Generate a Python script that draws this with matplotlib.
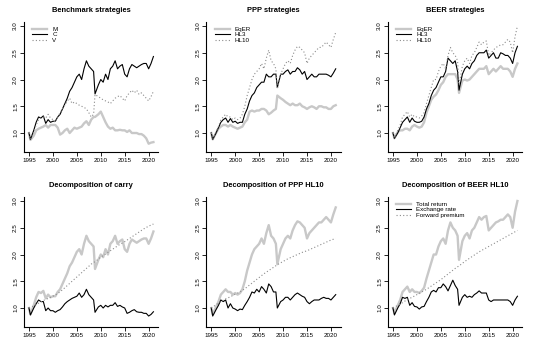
import numpy as np
import matplotlib
matplotlib.use("Agg")
import matplotlib.pyplot as plt

plt.rcParams['font.family'] = ['Liberation Sans', 'DejaVu Sans']

# observation dates (fractional years)
dates = [1995.0, 1995.3, 1996.0, 1996.5, 1997.0, 1997.5, 1998.0, 1998.5, 1999.0, 1999.5,
         2000.0, 2000.5, 2001.0, 2001.5, 2002.0, 2002.5, 2003.0, 2003.5, 2004.0, 2004.5,
         2005.0, 2005.5, 2006.0, 2006.5, 2007.0, 2007.5, 2008.0, 2008.5, 2008.8, 2009.5,
         2010.0, 2010.5, 2011.0, 2011.5, 2012.0, 2012.5, 2013.0, 2013.5, 2014.0, 2014.5,
         2015.0, 2015.5, 2016.0, 2016.5, 2017.0, 2017.5, 2018.0, 2018.5, 2019.0, 2019.5,
         2020.0, 2020.5, 2021.0]
fp_years = list(range(1995, 2022))

# benchmark strategies
bench_m = [1.0, 0.87, 0.95, 1.05, 1.08, 1.1, 1.12, 1.15, 1.1, 1.15,
           1.15, 1.15, 1.1, 0.97, 1.0, 1.05, 1.08, 1.0, 1.05, 1.1,
           1.08, 1.1, 1.12, 1.18, 1.22, 1.15, 1.25, 1.3, 1.3, 1.35,
           1.4, 1.3, 1.2, 1.12, 1.08, 1.1, 1.05, 1.05, 1.06, 1.05,
           1.05, 1.02, 1.05, 1.0, 1.0, 1.0, 0.98, 0.98, 0.95, 0.9,
           0.8, 0.82, 0.83]
bench_c = [1.0, 0.88, 1.05, 1.2, 1.3, 1.28, 1.32, 1.18, 1.25, 1.2,
           1.22, 1.22, 1.3, 1.35, 1.45, 1.55, 1.65, 1.78, 1.85, 1.95,
           2.05, 2.1, 2.0, 2.2, 2.35, 2.25, 2.2, 2.15, 1.73, 1.9,
           2.0, 1.95, 2.1, 2.0, 2.2, 2.25, 2.35, 2.2, 2.25, 2.28,
           2.1, 2.05, 2.2, 2.28, 2.25, 2.22, 2.25, 2.28, 2.3, 2.3,
           2.2, 2.3, 2.43]
bench_v = [1.0, 0.88, 1.02, 1.15, 1.25, 1.28, 1.3, 1.28, 1.35, 1.28,
           1.25, 1.2, 1.3, 1.38, 1.45, 1.52, 1.6, 1.65, 1.55, 1.58,
           1.55, 1.52, 1.5, 1.48, 1.45, 1.38, 1.3, 1.35, 1.72, 1.68,
           1.65, 1.62, 1.6, 1.58, 1.55, 1.6, 1.65, 1.68, 1.7, 1.65,
           1.6, 1.7, 1.75, 1.8, 1.75, 1.8, 1.72, 1.75, 1.7, 1.65,
           1.6, 1.68, 1.78]

# PPP strategies
ppp_eqer = [1.0, 0.88, 1.0, 1.08, 1.12, 1.15, 1.15, 1.12, 1.15, 1.12,
            1.1, 1.08, 1.1, 1.12, 1.2, 1.25, 1.4, 1.42, 1.4, 1.42,
            1.42, 1.45, 1.45, 1.42, 1.35, 1.38, 1.42, 1.45, 1.7, 1.65,
            1.62, 1.58, 1.55, 1.52, 1.55, 1.52, 1.52, 1.55, 1.5, 1.48,
            1.45, 1.48, 1.5, 1.48, 1.45, 1.5, 1.5, 1.48, 1.48, 1.45,
            1.45, 1.5, 1.52]
ppp_hl3 = [1.0, 0.88, 1.0, 1.1, 1.2, 1.25, 1.28, 1.2, 1.27, 1.2,
           1.22, 1.18, 1.2, 1.2, 1.35, 1.45, 1.6, 1.7, 1.75, 1.85,
           1.9, 1.95, 1.95, 2.1, 2.05, 2.05, 2.1, 2.1, 1.85, 2.1,
           2.1, 2.15, 2.18, 2.1, 2.15, 2.15, 2.22, 2.18, 2.1, 2.15,
           2.0, 2.05, 2.1, 2.05, 2.05, 2.1, 2.1, 2.1, 2.1, 2.08,
           2.05, 2.12, 2.2]
ppp_hl10 = [1.0, 0.88, 1.02, 1.12, 1.25, 1.3, 1.35, 1.3, 1.3, 1.25,
            1.28, 1.25, 1.28, 1.35, 1.5, 1.7, 1.85, 2.0, 2.1, 2.15,
            2.2, 2.3, 2.2, 2.4, 2.55, 2.35, 2.3, 2.2, 1.82, 2.1,
            2.2, 2.3, 2.35, 2.3, 2.45, 2.55, 2.62, 2.6, 2.55, 2.5,
            2.3, 2.4, 2.45, 2.5, 2.55, 2.6, 2.6, 2.65, 2.7, 2.65,
            2.6, 2.75, 2.88]

# BEER strategies
beer_eqer = [1.0, 0.9, 1.02, 1.05, 1.05, 1.08, 1.08, 1.05, 1.12, 1.15,
             1.12, 1.1, 1.12, 1.2, 1.38, 1.5, 1.62, 1.68, 1.72, 1.8,
             1.9, 1.95, 2.05, 2.1, 2.1, 2.1, 2.1, 2.0, 1.75, 1.98,
             2.0, 1.98, 2.0, 2.05, 2.1, 2.15, 2.2, 2.2, 2.2, 2.25,
             2.1, 2.15, 2.2, 2.15, 2.2, 2.25, 2.2, 2.2, 2.2, 2.15,
             2.05, 2.2, 2.3]
beer_hl3 = [1.0, 0.9, 1.0, 1.1, 1.2, 1.25, 1.3, 1.2, 1.28, 1.22,
            1.2, 1.2, 1.22, 1.3, 1.45, 1.55, 1.7, 1.8, 1.85, 1.95,
            2.05, 2.05, 2.15, 2.4, 2.35, 2.3, 2.35, 2.15, 1.8, 2.1,
            2.2, 2.25, 2.2, 2.3, 2.35, 2.45, 2.5, 2.5, 2.5, 2.55,
            2.4, 2.45, 2.5, 2.4, 2.4, 2.5, 2.48, 2.45, 2.45, 2.4,
            2.3, 2.5, 2.62]
beer_hl10 = [1.0, 0.9, 1.05, 1.15, 1.3, 1.35, 1.4, 1.3, 1.35, 1.3,
             1.3, 1.28, 1.32, 1.38, 1.55, 1.7, 1.85, 2.0, 2.0, 2.15,
             2.25, 2.3, 2.2, 2.45, 2.6, 2.5, 2.45, 2.35, 1.9, 2.25,
             2.35, 2.4, 2.3, 2.45, 2.5, 2.6, 2.7, 2.65, 2.7, 2.72,
             2.45, 2.5, 2.55, 2.6, 2.62, 2.65, 2.65, 2.7, 2.75, 2.7,
             2.5, 2.8, 3.0]

# decompositions: exchange rate part and forward premium part
carry_fx = [1.0, 0.87, 1.0, 1.08, 1.15, 1.12, 1.12, 0.95, 1.0, 0.95,
            0.95, 0.92, 0.95, 0.97, 1.02, 1.08, 1.12, 1.15, 1.18, 1.2,
            1.22, 1.28, 1.2, 1.25, 1.35, 1.25, 1.2, 1.15, 0.92, 1.02,
            1.05, 1.0, 1.05, 1.02, 1.05, 1.05, 1.1, 1.03, 1.05, 1.02,
            1.0, 0.9, 0.92, 0.95, 0.97, 0.93, 0.92, 0.92, 0.9, 0.9,
            0.85, 0.88, 0.93]
carry_fp = [1.0, 1.04, 1.09, 1.14, 1.18, 1.22, 1.27, 1.34, 1.42, 1.5,
            1.58, 1.66, 1.74, 1.82, 1.88, 1.95, 2.01, 2.07, 2.13, 2.19,
            2.24, 2.3, 2.36, 2.42, 2.48, 2.53, 2.57]
ppp_fx = [1.0, 0.85, 0.97, 1.05, 1.15, 1.12, 1.15, 1.0, 1.08, 1.0,
          0.98, 0.95, 0.98, 0.97, 1.05, 1.12, 1.2, 1.3, 1.28, 1.35,
          1.3, 1.4, 1.35, 1.28, 1.45, 1.4, 1.3, 1.3, 1.0, 1.12,
          1.15, 1.2, 1.2, 1.15, 1.2, 1.25, 1.28, 1.25, 1.22, 1.2,
          1.12, 1.08, 1.12, 1.15, 1.15, 1.15, 1.18, 1.2, 1.18, 1.18,
          1.15, 1.2, 1.25]
ppp_fp = [1.0, 1.06, 1.12, 1.17, 1.21, 1.26, 1.3, 1.36, 1.43, 1.5,
          1.57, 1.64, 1.7, 1.76, 1.82, 1.87, 1.92, 1.96, 2.0, 2.04,
          2.07, 2.11, 2.15, 2.19, 2.23, 2.27, 2.3]
beer_fx = [1.0, 0.87, 1.0, 1.08, 1.2, 1.18, 1.2, 1.05, 1.1, 1.03,
           1.02, 0.98, 1.02, 1.03, 1.12, 1.2, 1.3, 1.33, 1.3, 1.38,
           1.38, 1.45, 1.4, 1.32, 1.42, 1.52, 1.42, 1.35, 1.05, 1.2,
           1.25, 1.2, 1.22, 1.2, 1.25, 1.28, 1.32, 1.28, 1.28, 1.28,
           1.15, 1.12, 1.15, 1.15, 1.15, 1.15, 1.15, 1.15, 1.15, 1.12,
           1.05, 1.15, 1.22]
beer_fp = [1.0, 1.05, 1.1, 1.16, 1.2, 1.25, 1.3, 1.35, 1.41, 1.47,
           1.53, 1.6, 1.67, 1.74, 1.8, 1.87, 1.93, 1.99, 2.05, 2.1,
           2.15, 2.2, 2.25, 2.3, 2.35, 2.4, 2.45]

titles = ["Benchmark strategies", "PPP strategies", "BEER strategies",
          "Decomposition of carry", "Decomposition of PPP HL10", "Decomposition of BEER HL10"]

GREY = "#c8c8c8"
DOT = "#8c8c8c"
FS = 4.5

fig = plt.figure(figsize=(5.45, 3.5), dpi=100)
lefts = [24 / 545, 206.3 / 545, 388 / 545]
bottoms = [(350 - 152) / 350, (350 - 327) / 350]
w, h = 134.4 / 545, 130 / 350


def setup(ax, title):
    ax.set_xlim(1993.96, 2022.04)
    ax.set_ylim(0.645, 3.075)
    for s in ["top", "right"]:
        ax.spines[s].set_visible(False)
    for s in ["left", "bottom"]:
        ax.spines[s].set_linewidth(0.8)
    ax.set_xticks([1995, 2000, 2005, 2010, 2015, 2020])
    ax.set_yticks([1.0, 1.5, 2.0, 2.5, 3.0])
    ax.set_yticklabels(["1.0", "1.5", "2.0", "2.5", "3.0"], rotation=90, va="center")
    ax.tick_params(labelsize=FS, length=2.8, width=0.6, pad=1.5)
    ax.text(0.5, 1.087, title, transform=ax.transAxes, ha="center", va="center",
            fontsize=5.4, fontweight="bold")


def add_legend(ax, handles, labels):
    ax.legend(handles, labels, loc="upper left", bbox_to_anchor=(0.03, 1.0),
              frameon=False, fontsize=FS, handlelength=2.4, labelspacing=0.02,
              handletextpad=0.8, borderaxespad=0.3)


def trio(ax, a, b, c, labels):
    l1, = ax.plot(dates, a, color=GREY, lw=1.7)
    l2, = ax.plot(dates, b, color="black", lw=0.8)
    l3, = ax.plot(dates, c, color=DOT, lw=0.8, ls=(0, (1, 2)))
    add_legend(ax, [l1, l2, l3], labels)


def decomp(ax, total, fx, fp, legend=False):
    l1, = ax.plot(dates, total, color=GREY, lw=1.7)
    l2, = ax.plot(dates, fx, color="black", lw=0.8)
    l3, = ax.plot(fp_years, fp, color=DOT, lw=0.8, ls=(0, (1, 2)))
    if legend:
        add_legend(ax, [l1, l2, l3], ["Total return", "Exchange rate", "Forward premium"])


axes = []
for r in range(2):
    for c in range(3):
        axes.append(fig.add_axes([lefts[c], bottoms[r], w, h]))

trio(axes[0], bench_m, bench_c, bench_v, ["M", "C", "V"])
trio(axes[1], ppp_eqer, ppp_hl3, ppp_hl10, ["EqER", "HL3", "HL10"])
trio(axes[2], beer_eqer, beer_hl3, beer_hl10, ["EqER", "HL3", "HL10"])
decomp(axes[3], bench_c, carry_fx, carry_fp)
decomp(axes[4], ppp_hl10, ppp_fx, ppp_fp)
decomp(axes[5], beer_hl10, beer_fx, beer_fp, legend=True)

for ax, t in zip(axes, titles):
    setup(ax, t)

fig.savefig("out.png", dpi=100)
